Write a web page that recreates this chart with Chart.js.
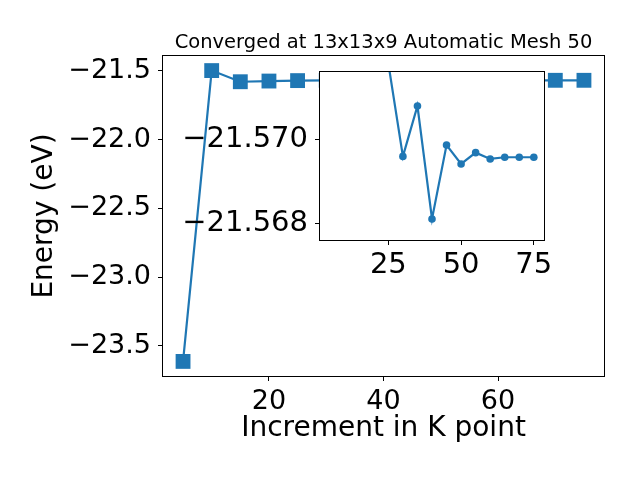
<!DOCTYPE html>
<html>
<head>
<meta charset="utf-8">
<script src="https://cdn.jsdelivr.net/npm/chart.js@4"></script>
<style>
  html, body { margin: 0; padding: 0; background: #fff; }
  #wrap { position: relative; width: 640px; height: 480px; }
  canvas { position: absolute; left: 0; top: 0; }
</style>
</head>
<body>
<div id="wrap">
  <canvas id="mainChart" width="640" height="480"></canvas>
  <canvas id="insetChart" width="640" height="480"></canvas>
</div>
<script>
const kPoints = [5, 10, 15, 20, 25, 30, 35, 40, 45, 50, 55, 60, 65, 70, 75];
const energies = [-23.612, -21.499, -21.580, -21.575, -21.5718, -21.56959, -21.57079, -21.5681,
                  -21.56986, -21.56941, -21.56968, -21.56953, -21.56957, -21.56957, -21.56957];
const mainXTicks = [20, 40, 60];
const mainYTicks = [-23.5, -23.0, -22.5, -22.0, -21.5];
const insetXTicks = [25, 50, 75];
const insetYTicks = [-21.570, -21.568];

const blue = '#1f77b4';
const font = 'DejaVu Sans';
const chartTitle = 'Converged at 13x13x9 Automatic Mesh 50';

function minus(s) {
    return s.replace('-', '\u2212');
}

// draws the axes box, an optional white background and an optional title over the plot area
const framePlugin = {
    id: 'frame',
    beforeDraw(chart, args, opts) {
        if (!opts.fill) return;
        const a = chart.chartArea;
        chart.ctx.save();
        chart.ctx.fillStyle = '#ffffff';
        chart.ctx.fillRect(a.left, a.top, a.right - a.left, a.bottom - a.top);
        chart.ctx.restore();
    },
    afterDraw(chart, args, opts) {
        const a = chart.chartArea;
        const ctx = chart.ctx;
        ctx.save();
        ctx.strokeStyle = '#000';
        ctx.lineWidth = 1;
        ctx.strokeRect(Math.round(a.left) - 0.5, Math.round(a.top) - 0.5,
            Math.round(a.right - a.left) + 1, Math.round(a.bottom - a.top) + 1);
        if (opts.title) {
            ctx.fillStyle = '#000';
            ctx.font = '19.5px "' + font + '"';
            ctx.textAlign = 'center';
            ctx.textBaseline = 'alphabetic';
            ctx.fillText(opts.title, (a.left + a.right) / 2, a.top - 7.7);
        }
        ctx.restore();
    }
};

const points = kPoints.map((k, i) => ({ x: k, y: energies[i] }));

new Chart(document.getElementById('mainChart'), {
    type: 'line',
    data: {
        datasets: [{
            data: points,
            borderColor: blue,
            backgroundColor: blue,
            borderWidth: 2.2,
            pointStyle: 'rect',
            pointRadius: 10.5,
            pointBorderWidth: 0,
            tension: 0
        }]
    },
    options: {
        responsive: false,
        animation: false,
        layout: { padding: { left: 0, right: 36, top: 56, bottom: 0 } },
        plugins: {
            legend: { display: false },
            tooltip: { enabled: false },
            title: { display: false },
            frame: { fill: false, title: chartTitle }
        },
        scales: {
            x: {
                type: 'linear',
                min: 1.5,
                max: 78.5,
                afterBuildTicks: axis => { axis.ticks = mainXTicks.map(v => ({ value: v })); },
                afterFit: scale => { scale.height = 104; },
                grid: { drawOnChartArea: false, color: '#000', tickLength: 5 },
                border: { display: false },
                ticks: {
                    color: '#000',
                    padding: 5,
                    maxRotation: 0,
                    font: { family: font, size: 27 },
                    callback: v => String(v)
                },
                title: {
                    display: true,
                    text: 'Increment in K point',
                    color: '#000',
                    font: { family: font, size: 28 },
                    padding: { top: 0, bottom: 34 }
                }
            },
            y: {
                type: 'linear',
                min: -23.718,
                max: -21.393,
                afterBuildTicks: axis => { axis.ticks = mainYTicks.map(v => ({ value: v })); },
                afterFit: scale => { scale.width = 163; },
                grid: { drawOnChartArea: false, color: '#000', tickLength: 5 },
                border: { display: false },
                ticks: {
                    color: '#000',
                    padding: 7,
                    font: { family: font, size: 27 },
                    callback: v => minus(v.toFixed(1))
                },
                title: {
                    display: true,
                    text: 'Energy (eV)',
                    color: '#000',
                    font: { family: font, size: 28 },
                    padding: { top: 28, bottom: 0 }
                }
            }
        }
    },
    plugins: [framePlugin]
});

// inset: same run, zoomed and with the energy axis flipped
new Chart(document.getElementById('insetChart'), {
    type: 'line',
    data: {
        datasets: [{
            data: points.slice(2),
            borderColor: blue,
            backgroundColor: blue,
            borderWidth: 2.2,
            pointStyle: 'circle',
            pointRadius: 3.8,
            pointBorderWidth: 0,
            tension: 0
        }]
    },
    options: {
        responsive: false,
        animation: false,
        layout: { padding: { left: 160, right: 96, top: 72, bottom: 200 } },
        plugins: {
            legend: { display: false },
            tooltip: { enabled: false },
            frame: { fill: true }
        },
        scales: {
            x: {
                type: 'linear',
                min: 1.5,
                max: 78.5,
                afterBuildTicks: axis => { axis.ticks = insetXTicks.map(v => ({ value: v })); },
                afterFit: scale => { scale.height = 40; },
                grid: { drawOnChartArea: false, color: '#000', tickLength: 5 },
                border: { display: false },
                ticks: {
                    color: '#000',
                    padding: 3,
                    maxRotation: 0,
                    font: { family: font, size: 29 },
                    callback: v => String(v)
                }
            },
            y: {
                type: 'linear',
                reverse: true,
                min: -21.5716,
                max: -21.5676,
                afterBuildTicks: axis => { axis.ticks = insetYTicks.map(v => ({ value: v })); },
                afterFit: scale => { scale.width = 160; },
                grid: { drawOnChartArea: false, color: '#000', tickLength: 5 },
                border: { display: false },
                ticks: {
                    color: '#000',
                    padding: 7,
                    font: { family: font, size: 29 },
                    callback: v => minus(v.toFixed(3))
                }
            }
        }
    },
    plugins: [framePlugin]
});
</script>
</body>
</html>
